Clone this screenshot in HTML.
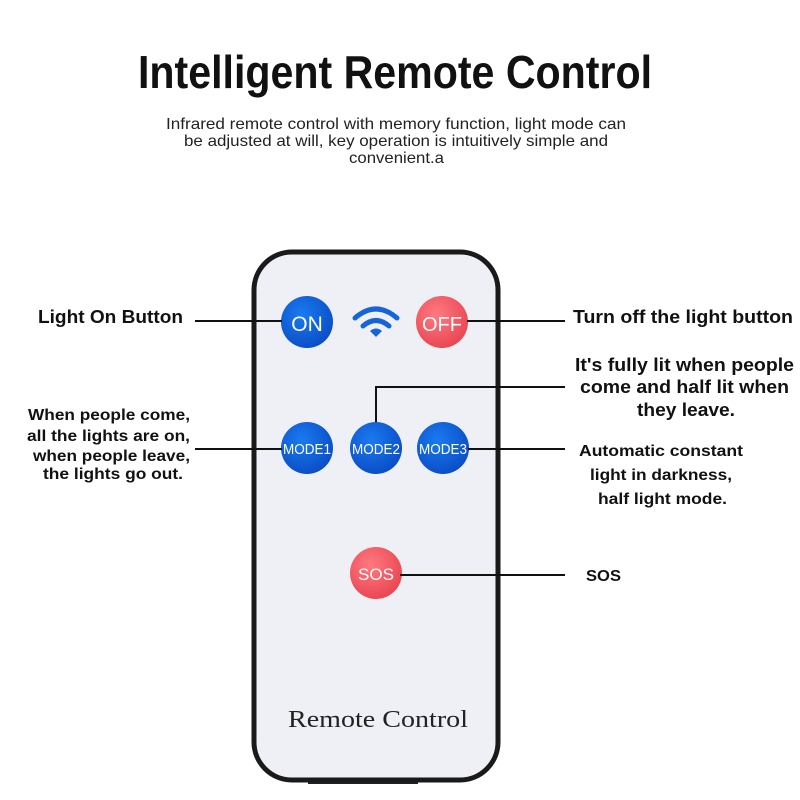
<!DOCTYPE html>
<html><head><style>body{margin:0;background:#fff}svg{display:block}</style></head><body>
<svg width="800" height="800" viewBox="0 0 800 800" xmlns="http://www.w3.org/2000/svg" font-family="Liberation Sans, sans-serif">
<rect width="800" height="800" fill="#fff"/>
<text x="138" y="88" font-size="46" font-weight="bold" fill="#111" textLength="514" lengthAdjust="spacingAndGlyphs">Intelligent Remote Control</text>
<g font-size="16" fill="#222">
<text x="166" y="129" textLength="460" lengthAdjust="spacingAndGlyphs">Infrared remote control with memory function, light mode can</text>
<text x="184" y="146" textLength="424" lengthAdjust="spacingAndGlyphs">be adjusted at will, key operation is intuitively simple and</text>
<text x="349" y="163" textLength="95" lengthAdjust="spacingAndGlyphs">convenient.a</text>
</g>
<!-- remote -->
<rect x="308" y="774" width="110" height="10" fill="#222"/>
<rect x="254" y="252" width="244" height="528" rx="38" fill="#eef0f6" stroke="#1a1a1a" stroke-width="5"/>
<g fill="none" stroke="#1565d8" stroke-width="5" stroke-linecap="round">
<path d="M355 318 Q376 300 397 318"/>
<path d="M363 326 Q376 315 389 326"/>
</g>
<path d="M370 331 L376 337 L382 331 Q376 326 370 331Z" fill="#1565d8"/>
<defs>
<radialGradient id="b" cx="0.4" cy="0.35" r="0.7"><stop offset="0" stop-color="#1a7af0"/><stop offset="1" stop-color="#0a4cc4"/></radialGradient>
<radialGradient id="r" cx="0.4" cy="0.35" r="0.7"><stop offset="0" stop-color="#ff7a80"/><stop offset="1" stop-color="#e84450"/></radialGradient>
</defs>
<g font-size="13" fill="#fff" text-anchor="middle">
<circle cx="307" cy="322" r="26" fill="url(#b)"/><text x="307" y="331" font-size="21">ON</text>
<circle cx="442" cy="322" r="26" fill="url(#r)"/><text x="442" y="331" font-size="20">OFF</text>
<circle cx="307" cy="448" r="26" fill="url(#b)"/><text x="307" y="454" textLength="48" lengthAdjust="spacingAndGlyphs" font-size="15">MODE1</text>
<circle cx="376" cy="448" r="26" fill="url(#b)"/><text x="376" y="454" textLength="48" lengthAdjust="spacingAndGlyphs" font-size="15">MODE2</text>
<circle cx="443" cy="448" r="26" fill="url(#b)"/><text x="443" y="454" textLength="48" lengthAdjust="spacingAndGlyphs" font-size="15">MODE3</text>
<circle cx="376" cy="573" r="26" fill="url(#r)"/><text x="376" y="580" font-size="17">SOS</text>
</g>
<text x="288" y="727" font-family="Liberation Serif, serif" font-size="24" fill="#222" textLength="180" lengthAdjust="spacingAndGlyphs">Remote Control</text>
<g stroke="#111" stroke-width="2" fill="none">
<line x1="195" y1="321" x2="282" y2="321"/>
<line x1="467" y1="321" x2="565" y2="321"/>
<polyline points="376,422 376,387 565,387"/>
<line x1="195" y1="449" x2="282" y2="449"/>
<line x1="468" y1="449" x2="565" y2="449"/>
<line x1="400" y1="575" x2="565" y2="575"/>
</g>
<g font-size="18" font-weight="bold" fill="#111">
<text x="38" y="323" textLength="145" lengthAdjust="spacingAndGlyphs">Light On Button</text>
<text x="573" y="323" textLength="220" lengthAdjust="spacingAndGlyphs">Turn off the light button</text>
<text x="575" y="371" textLength="219" lengthAdjust="spacingAndGlyphs">It's fully lit when people</text>
<text x="580" y="393" textLength="209" lengthAdjust="spacingAndGlyphs">come and half lit when</text>
<text x="637" y="416" textLength="98" lengthAdjust="spacingAndGlyphs">they leave.</text>
</g>
<g font-size="16" font-weight="bold" fill="#111">
<text x="28" y="420" textLength="162" lengthAdjust="spacingAndGlyphs">When people come,</text>
<text x="27" y="441" textLength="163" lengthAdjust="spacingAndGlyphs">all the lights are on,</text>
<text x="33" y="461" textLength="157" lengthAdjust="spacingAndGlyphs">when people leave,</text>
<text x="43" y="479" textLength="140" lengthAdjust="spacingAndGlyphs">the lights go out.</text>
<text x="579" y="456" textLength="164" lengthAdjust="spacingAndGlyphs">Automatic constant</text>
<text x="590" y="480" textLength="142" lengthAdjust="spacingAndGlyphs">light in darkness,</text>
<text x="598" y="504" textLength="129" lengthAdjust="spacingAndGlyphs">half light mode.</text>
<text x="586" y="581" textLength="35" lengthAdjust="spacingAndGlyphs">SOS</text>
</g>
</svg>
</body></html>
